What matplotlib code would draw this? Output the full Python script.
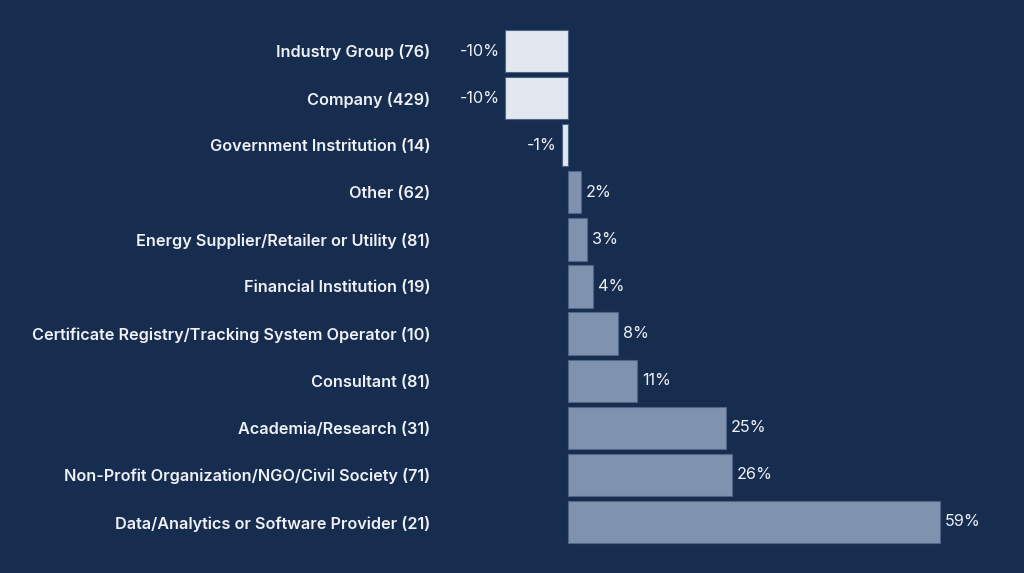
import matplotlib
matplotlib.use("Agg")
import matplotlib.pyplot as plt

# data, top to bottom
categories = [
    "Industry Group (76)",
    "Company (429)",
    "Government Instritution (14)",
    "Other (62)",
    "Energy Supplier/Retailer or Utility (81)",
    "Financial Institution (19)",
    "Certificate Registry/Tracking System Operator (10)",
    "Consultant (81)",
    "Academia/Research (31)",
    "Non-Profit Organization/NGO/Civil Society (71)",
    "Data/Analytics or Software Provider (21)",
]
values = [-10, -10, -1, 2, 3, 4, 8, 11, 25, 26, 59]

bg = "#172d50"
neg_color = "#e3e8f0"
pos_color = "#7f93b0"
edge_color = "#4f6587"
text_color = "#eef1f6"

plt.rcParams["font.family"] = ["Inter", "DejaVu Sans"]

fig = plt.figure(figsize=(10.24, 5.73), dpi=100)
fig.patch.set_facecolor(bg)
ax = fig.add_axes([440 / 1024, 0, (1024 - 440) / 1024, 1])
ax.set_facecolor(bg)

ypos = list(range(len(categories)))
colors = [neg_color if v < 0 else pos_color for v in values]
bars = ax.barh(ypos, values, height=0.9, color=colors, edgecolor=edge_color, linewidth=0.8)

# px scale: zero at 568 px, 6.3 px per percent
ax.set_xlim(-(568 - 440) / 6.3, (1024 - 568) / 6.3)
ax.set_ylim(10 + 51 / 47.1, -51 / 47.1)

ax.set_yticks(ypos)
ax.set_yticklabels(categories, fontsize=11.7, fontweight="semibold", color=text_color)
ax.tick_params(axis="y", length=0, pad=7)
ax.set_xticks([])
for s in ax.spines.values():
    s.set_visible(False)

for b, v in zip(bars, values):
    yc = b.get_y() + b.get_height() / 2
    if v < 0:
        ax.annotate(f"{v}%", (v, yc), xytext=(-3.5, 0), textcoords="offset points",
                    ha="right", va="center", fontsize=11.7, color=text_color)
    else:
        ax.annotate(f"{v}%", (v, yc), xytext=(3.5, 0), textcoords="offset points",
                    ha="left", va="center", fontsize=11.7, color=text_color)

fig.savefig("out.png", dpi=100, facecolor=bg)
